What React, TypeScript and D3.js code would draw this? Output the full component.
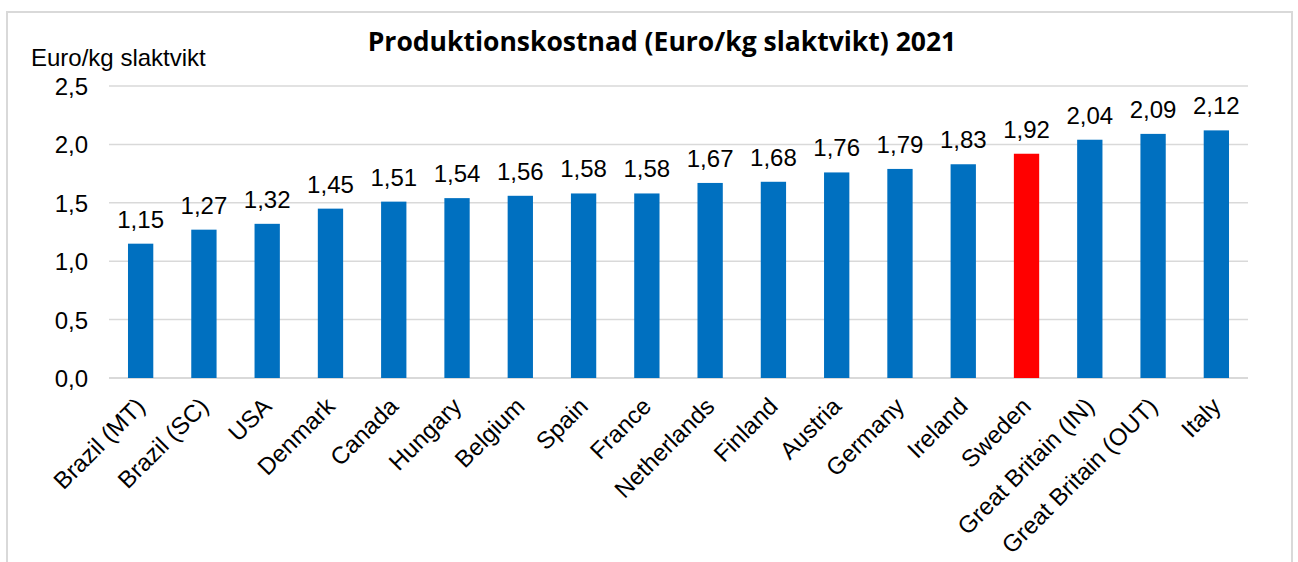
import React, { useEffect, useRef } from 'react';
import * as d3 from 'd3';

const countries = [
  'Brazil (MT)', 'Brazil (SC)', 'USA', 'Denmark', 'Canada', 'Hungary', 'Belgium', 'Spain', 'France',
  'Netherlands', 'Finland', 'Austria', 'Germany', 'Ireland', 'Sweden', 'Great Britain (IN)',
  'Great Britain (OUT)', 'Italy',
];
const costs = [1.15, 1.27, 1.32, 1.45, 1.51, 1.54, 1.56, 1.58, 1.58, 1.67, 1.68, 1.76, 1.79, 1.83, 1.92, 2.04, 2.09, 2.12];
const yTicks = [0, 0.5, 1, 1.5, 2, 2.5];
const highlight = 'Sweden';

const W = 1298;
const H = 562;
const margin = { top: 86, right: 50, bottom: 184, left: 109 };
const font = '"Liberation Sans", Arial, sans-serif';

const fmt = (v: number, digits: number) => v.toFixed(digits).replace('.', ',');

export default function App() {
  const ref = useRef<SVGSVGElement>(null);

  useEffect(() => {
    const svg = d3.select(ref.current);
    svg.selectAll('*').remove();

    const innerW = W - margin.left - margin.right;
    const innerH = H - margin.top - margin.bottom;

    // outer frame (bottom edge falls outside the picture)
    svg.append('path')
      .attr('d', 'M7,600 V12 H1292 V600')
      .attr('fill', 'none').attr('stroke', '#d9d9d9').attr('stroke-width', 2);

    svg.append('text')
      .attr('x', 662).attr('y', 51)
      .attr('text-anchor', 'middle')
      .attr('font-family', '"Open Sans", sans-serif')
      .attr('font-weight', 'bold')
      .attr('font-size', 26.5)
      .text('Produktionskostnad (Euro/kg slaktvikt) 2021');

    svg.append('text')
      .attr('x', 31).attr('y', 66)
      .attr('font-family', font)
      .attr('font-size', 24)
      .text('Euro/kg slaktvikt');

    const x = d3.scaleBand<string>().domain(countries).range([0, innerW]).paddingInner(0.6).paddingOuter(0.3);
    const y = d3.scaleLinear().domain([0, 2.5]).range([innerH, 0]);

    const g = svg.append('g').attr('transform', `translate(${margin.left},${margin.top})`);

    // gridlines
    g.selectAll('.grid').data(yTicks).enter().append('line')
      .attr('x1', 0).attr('x2', innerW)
      .attr('y1', d => y(d)).attr('y2', d => y(d))
      .attr('stroke', '#d9d9d9').attr('stroke-width', d => d === 0 ? 2 : 1.5);

    g.selectAll('.ytick').data(yTicks).enter().append('text')
      .attr('x', -21).attr('y', d => y(d) + 9)
      .attr('text-anchor', 'end')
      .attr('font-family', font).attr('font-size', 24)
      .text(d => fmt(d, 1));

    const data = countries.map((c, i) => ({ c, v: costs[i] }));

    g.selectAll('.bar').data(data).enter().append('rect')
      .attr('x', d => x(d.c)!)
      .attr('y', d => y(d.v))
      .attr('width', x.bandwidth())
      .attr('height', d => innerH - y(d.v))
      .attr('fill', d => d.c === highlight ? '#ff0000' : '#0070c0');

    g.selectAll('.val').data(data).enter().append('text')
      .attr('x', d => x(d.c)! + x.bandwidth() / 2)
      .attr('y', d => y(d.v) - 16)
      .attr('text-anchor', 'middle')
      .attr('font-family', font).attr('font-size', 24)
      .text(d => fmt(d.v, 2));

    g.selectAll('.xlab').data(countries).enter().append('text')
      .attr('transform', d => `translate(${x(d)! + x.bandwidth() / 2 - 6},${innerH + 18}) rotate(-45)`)
      .attr('text-anchor', 'end')
      .attr('dy', '0.7em')
      .attr('font-family', font).attr('font-size', 24)
      .text(d => d);
  }, []);

  return <svg ref={ref} width={W} height={H} style={{ position: 'absolute', left: 0, top: 0, display: 'block' }} />;
}
